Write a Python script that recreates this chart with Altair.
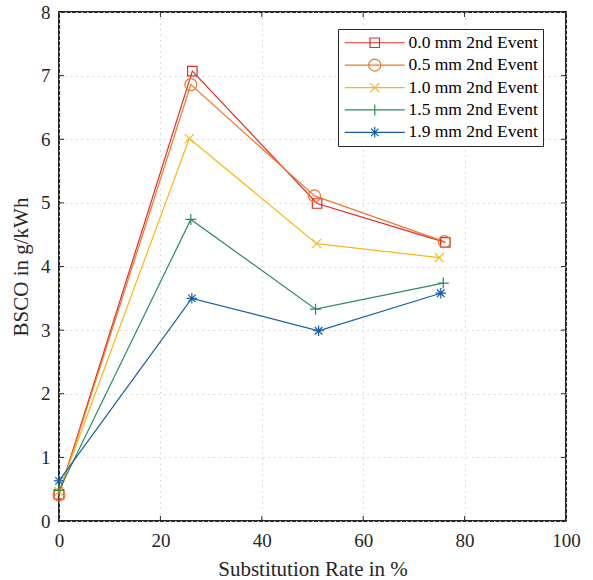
import altair as alt
import pandas as pd

# ---------------- data ----------------
series = ["0.0 mm 2nd Event", "0.5 mm 2nd Event", "1.0 mm 2nd Event",
          "1.5 mm 2nd Event", "1.9 mm 2nd Event"]
colors = ["#E12B2A", "#F0772C", "#FDB515", "#2E8A5A", "#175EA6"]

x_00 = [0, 26.3, 50.9, 76.2]
y_00 = [0.42, 7.07, 4.99, 4.38]
x_05 = [0, 26.0, 50.4, 76.0]
y_05 = [0.41, 6.86, 5.11, 4.39]
x_10 = [0, 25.7, 50.8, 75.0]
y_10 = [0.46, 6.01, 4.36, 4.14]
x_15 = [0, 26.0, 50.6, 75.8]
y_15 = [0.48, 4.74, 3.33, 3.74]
x_19 = [0, 26.2, 51.2, 75.3]
y_19 = [0.63, 3.50, 2.99, 3.58]

x_ticks = [0, 20, 40, 60, 80, 100]
y_ticks = [0, 1, 2, 3, 4, 5, 6, 7, 8]

# ---------------- build table ----------------
xs = [x_00, x_05, x_10, x_15, x_19]
ys = [y_00, y_05, y_10, y_15, y_19]
rows = []
for name, xv, yv in zip(series, xs, ys):
    for a, b in zip(xv, yv):
        rows.append({"series": name, "x": a, "y": b})
df = pd.DataFrame(rows)

W, H = 507, 509
FONT = "Liberation Serif"
INK = "#262626"

glyphs = [
    "M-0.95,-0.95L0.95,-0.95L0.95,0.95L-0.95,0.95Z",
    "M1.2,0A1.2,1.2,0,1,1,-1.2,0A1.2,1.2,0,1,1,1.2,0Z",
    "M-0.9,-0.9L0.9,0.9M-0.9,0.9L0.9,-0.9",
    "M-1.1,0L1.1,0M0,-1.1L0,1.1",
    "M-1.05,0L1.05,0M0,-1.05L0,1.05M-0.75,-0.75L0.75,0.75M-0.75,0.75L0.75,-0.75",
]
legend_glyphs = ["M-6,0L6,0" + g for g in glyphs]

xscale = alt.Scale(domain=[0, 100], nice=False, zero=False)
yscale = alt.Scale(domain=[0, 8], nice=False, zero=False)
xaxis = alt.Axis(values=x_ticks, title="Substitution Rate in %", grid=True,
                 tickSize=0, labelPadding=10, titlePadding=8, domain=False,
                 labelFlush=False)
yaxis = alt.Axis(values=y_ticks, title="BSCO in g/kWh", grid=True,
                 tickSize=0, labelPadding=9, titlePadding=9, domain=False,
                 labelFlush=False)

def X(f):
    return alt.X(f, type="quantitative", scale=xscale, axis=xaxis)

def Y(f):
    return alt.Y(f, type="quantitative", scale=yscale, axis=yaxis)

color_scale = alt.Scale(domain=series, range=colors)
shape_scale = alt.Scale(domain=series, range=glyphs)
legend_shape_scale = alt.Scale(domain=series, range=legend_glyphs)

legend = alt.Legend(
    title=None, orient="none", legendX=279, legendY=17,
    fillColor="white", strokeColor=INK,
    padding=5, labelFontSize=17.5, labelFont=FONT, labelColor="black",
    symbolSize=100, symbolStrokeWidth=1.2, symbolOffset=23, labelOffset=25,
    rowPadding=3.4, symbolOpacity=1,
)

base = alt.Chart(df)

lines = base.mark_line(strokeWidth=1.2).encode(
    x=X("x"), y=Y("y"),
    color=alt.Color("series:N", scale=color_scale, legend=None),
    detail="series:N",
)

points = base.mark_point(filled=False, size=100, strokeWidth=1.2, opacity=1).encode(
    x=X("x"), y=Y("y"),
    color=alt.Color("series:N", scale=color_scale, legend=None),
    shape=alt.Shape("series:N", scale=shape_scale, legend=None),
)

legend_layer = base.mark_point(filled=False, size=100, opacity=0).encode(
    x=X("x"), y=Y("y"),
    color=alt.Color("series:N", scale=color_scale, legend=legend),
    shape=alt.Shape("series:N", scale=legend_shape_scale, legend=legend),
)

xt_df = pd.DataFrame({"x": x_ticks})
yt_df = pd.DataFrame({"y": y_ticks})
xtick_bottom = alt.Chart(xt_df).mark_rule(color=INK, strokeWidth=1).encode(
    x=X("x"), y=alt.value(H), y2=alt.value(H - 5))
xtick_top = alt.Chart(xt_df).mark_rule(color=INK, strokeWidth=1).encode(
    x=X("x"), y=alt.value(0), y2=alt.value(5))
ytick_left = alt.Chart(yt_df).mark_rule(color=INK, strokeWidth=1).encode(
    y=Y("y"), x=alt.value(0), x2=alt.value(5))
ytick_right = alt.Chart(yt_df).mark_rule(color=INK, strokeWidth=1).encode(
    y=Y("y"), x=alt.value(W), x2=alt.value(W - 5))

chart = alt.layer(
    xtick_bottom, xtick_top, ytick_left, ytick_right, lines, points, legend_layer
).resolve_scale(
    color="independent", shape="independent"
).properties(
    width=W, height=H,
    autosize=alt.AutoSizeParams(type="none"),
    padding={"left": 59, "top": 12, "right": 27, "bottom": 59},
    background="white",
).configure(
    font=FONT,
).configure_view(
    stroke=INK, strokeWidth=2,
).configure_axis(
    labelFont=FONT, labelFontSize=19, labelColor=INK,
    titleFont=FONT, titleFontSize=21, titleFontWeight="normal", titleColor=INK,
    gridColor="#cfcfcf", gridDash=[1.5, 4], gridWidth=1,
)

chart.save("out.html", embed_options={"renderer": "svg", "actions": False})
